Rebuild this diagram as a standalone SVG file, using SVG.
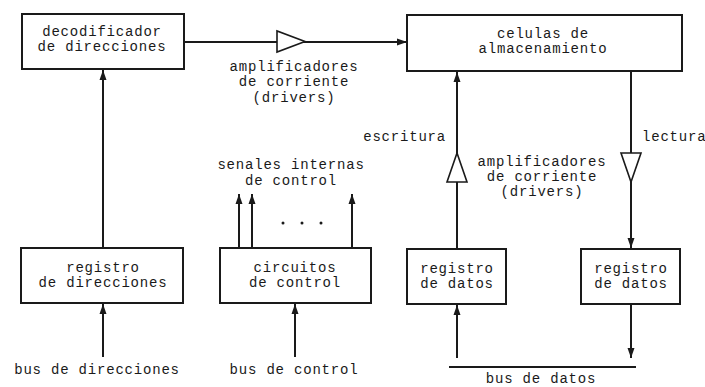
<svg xmlns="http://www.w3.org/2000/svg" width="705" height="387" viewBox="0 0 705 387">
<defs>
<marker id="ah" viewBox="0 0 10 10" refX="10" refY="5" markerWidth="10" markerHeight="10" markerUnits="userSpaceOnUse" orient="auto">
<path d="M0,1.5 L10,5 L0,8.5 z" fill="#1a1a1a"/>
</marker>
<style>
.box{fill:#fff;stroke:#1a1a1a;stroke-width:2}
.ln{fill:none;stroke:#1a1a1a;stroke-width:2}
.tri{fill:#fff;stroke:#1a1a1a;stroke-width:1.6}
text{font-family:"Liberation Mono","DejaVu Sans Mono",monospace;font-size:14px;letter-spacing:0.8px;fill:#1a1a1a;text-anchor:middle}
</style>
</defs>
<rect width="705" height="387" fill="#fff"/>
<g id="connectors">
<line class="ln" x1="184" y1="42" x2="407" y2="42" marker-end="url(#ah)"/>
<polygon class="tri" points="277,31 277,52 305,41.5"/>
<line class="ln" x1="103" y1="248" x2="103" y2="70" marker-end="url(#ah)"/>
<line class="ln" x1="103" y1="357" x2="103" y2="304" marker-end="url(#ah)"/>
<line class="ln" x1="295" y1="357" x2="295" y2="304" marker-end="url(#ah)"/>
<line class="ln" x1="239" y1="248" x2="239" y2="194" marker-end="url(#ah)"/>
<line class="ln" x1="252" y1="248" x2="252" y2="194" marker-end="url(#ah)"/>
<line class="ln" x1="352" y1="248" x2="352" y2="194" marker-end="url(#ah)"/>
<line class="ln" x1="457" y1="249" x2="457" y2="72" marker-end="url(#ah)"/>
<polygon class="tri" points="457,153 447,182 467,182"/>
<line class="ln" x1="457" y1="358" x2="457" y2="305" marker-end="url(#ah)"/>
<line class="ln" x1="631" y1="71" x2="631" y2="248" marker-end="url(#ah)"/>
<polygon class="tri" points="621,153 641,153 631,182"/>
<line class="ln" x1="631" y1="304" x2="631" y2="358" marker-end="url(#ah)"/>
<line class="ln" x1="449" y1="367" x2="636" y2="367"/>
<circle cx="283" cy="223" r="1.5" fill="#1a1a1a"/>
<circle cx="302" cy="223" r="1.5" fill="#1a1a1a"/>
<circle cx="321" cy="223" r="1.5" fill="#1a1a1a"/>
</g>
<g id="decodificador">
<rect class="box" x="22" y="14" width="162" height="55"/>
<text x="102" y="36">decodificador</text>
<text x="102" y="51">de direcciones</text>
</g>
<g id="celulas">
<rect class="box" x="407" y="15" width="275" height="56"/>
<text x="543" y="38">celulas de</text>
<text x="543" y="53">almacenamiento</text>
</g>
<g id="registro-direcciones">
<rect class="box" x="21" y="248" width="162" height="55"/>
<text x="103" y="272">registro</text>
<text x="103" y="287">de direcciones</text>
</g>
<g id="circuitos-control">
<rect class="box" x="220" y="248" width="151" height="55"/>
<text x="295" y="272">circuitos</text>
<text x="295" y="287">de control</text>
</g>
<g id="registro-datos-1">
<rect class="box" x="407" y="249" width="99" height="55"/>
<text x="457" y="273">registro</text>
<text x="457" y="288">de datos</text>
</g>
<g id="registro-datos-2">
<rect class="box" x="581" y="249" width="99" height="55"/>
<text x="631" y="273">registro</text>
<text x="631" y="288">de datos</text>
</g>
<g id="labels">
<text x="294" y="71">amplificadores</text>
<text x="294" y="86">de corriente</text>
<text x="294" y="102">(drivers)</text>
<text x="291" y="169">senales internas</text>
<text x="291" y="185">de control</text>
<text x="446" y="141" style="text-anchor:end">escritura</text>
<text x="642" y="141" style="text-anchor:start">lectura</text>
<text x="542" y="166">amplificadores</text>
<text x="542" y="181">de corriente</text>
<text x="542" y="196">(drivers)</text>
<text x="97" y="374">bus de direcciones</text>
<text x="294" y="374">bus de control</text>
<text x="541" y="383">bus de datos</text>
</g>
</svg>
